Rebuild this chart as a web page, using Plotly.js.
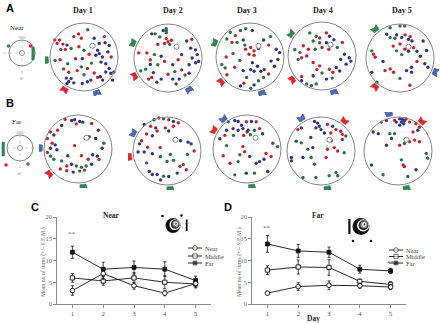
<!DOCTYPE html>
<html>
<head>
<meta charset="utf-8">
<script src="https://cdn.plot.ly/plotly-3.0.1.min.js"></script>
<style>
  html, body { margin: 0; padding: 0; background: #fff; }
  #chart { width: 440px; height: 323px; }
</style>
</head>
<body>
<div id="chart"></div>
<script>
// ---------------------------------------------------------------------------
// Data
// ---------------------------------------------------------------------------
const days = [1, 2, 3, 4, 5];
const dayLabels = ['Day 1', 'Day 2', 'Day 3', 'Day 4', 'Day 5'];

// Mean number of turns (+/- S.E.M.) by zone, Near-cue condition
const nearCondNear = [3.1, 7.0, 4.2, 2.5, 4.7];
const nearCondNearErr = [1.1, 1.3, 0.8, 0.6, 0.8];
const nearCondMiddle = [6.0, 5.3, 6.0, 5.0, 4.6];
const nearCondMiddleErr = [1.0, 1.0, 1.2, 1.5, 0.9];
const nearCondFar = [11.9, 8.0, 8.4, 8.0, 5.4];
const nearCondFarErr = [1.4, 1.6, 1.5, 1.7, 1.0];

// Far-cue condition
const farCondNear = [2.5, 4.0, 4.3, 4.2, 3.9];
const farCondNearErr = [0.4, 0.9, 1.0, 0.6, 0.6];
const farCondMiddle = [7.8, 8.5, 8.4, 5.2, 4.5];
const farCondMiddleErr = [1.0, 1.6, 1.8, 0.5, 0.6];
const farCondFar = [13.8, 12.2, 11.9, 8.0, 7.6];
const farCondFarErr = [1.9, 1.5, 1.2, 0.9, 0.6];

// significance marks: [day, y]
const nearStars = [[1, 16.2]];
const farStars = [[1, 17.5], [5, 9.4]];

// Turn locations in the arena (x, y as % of arena radius), colour = zone
const nearDay1 = [
  [11,80,'g'],[-16,68,'r'],[-30,60,'r'],[-8,55,'r'],[-86,50,'r'],[-72,50,'r'],[-79,40,'r'],[-62,38,'r'],[-50,35,'b'],
  [-55,22,'r'],[-68,22,'g'],[-38,25,'g'],[-15,30,'r'],[0,20,'g'],[-85,-10,'g'],[-70,-8,'r'],[-48,-20,'g'],[-60,-35,'r'],
  [-45,-45,'r'],[-52,-62,'b'],[-38,-63,'b'],[-45,-72,'b'],[-30,-76,'b'],[-50,-78,'b'],[-5,-78,'b'],[10,-73,'b'],[20,-68,'b'],
  [40,-60,'r'],[30,-47,'r'],[10,-34,'r'],[-8,-29,'g'],[-20,-40,'r'],[0,-52,'g'],[15,8,'r'],[22,-18,'g'],[45,40,'b'],
  [62,42,'b'],[74,34,'b'],[40,20,'b'],[45,10,'b'],[54,0,'b'],[35,5,'b'],[50,-15,'b'],[64,-20,'b'],[74,-34,'b'],[64,-44,'b'],
  [79,-48,'b'],[88,-44,'b'],[84,-68,'b'],[55,-68,'b'],[48,-58,'b'],[80,0,'r'],[60,60,'r'],[30,55,'b'],[70,15,'b'],[-25,-5,'r'],[-5,-5,'b']
];
const nearDay2 = [
  [-38,71,'g'],[-24,62,'g'],[-5,86,'g'],[-5,80,'g'],[-5,74,'g'],[-48,71,'b'],[-14,81,'b'],[-5,57,'r'],[0,48,'r'],[-10,43,'r'],
  [5,40,'g'],[10,52,'r'],[-30,40,'r'],[-86,15,'r'],[-62,15,'r'],[-40,10,'g'],[-52,-5,'r'],[-20,5,'b'],[-10,-10,'r'],[-30,-20,'g'],
  [-66,-33,'g'],[-80,-38,'g'],[-52,-19,'b'],[-43,-43,'b'],[-48,-57,'r'],[-57,-62,'r'],[-20,-62,'b'],[-33,-71,'b'],[14,-62,'b'],
  [24,-76,'b'],[33,-62,'b'],[0,-48,'r'],[20,-40,'g'],[40,-35,'r'],[14,-20,'b'],[30,-5,'r'],[40,10,'b'],[67,29,'b'],[81,24,'b'],
  [86,10,'b'],[71,0,'b'],[81,-14,'b'],[90,-10,'b'],[62,-20,'b'],[55,50,'b'],[70,55,'r'],[50,-50,'g'],[62,-45,'b']
];
const nearDay3 = [
  [-58,73,'g'],[-43,63,'r'],[-28,78,'g'],[-13,83,'g'],[7,78,'b'],[-68,53,'g'],[-53,43,'r'],[-38,43,'g'],[-20,50,'b'],[-15,35,'g'],
  [-13,23,'r'],[2,28,'r'],[12,18,'r'],[-3,8,'r'],[12,5,'r'],[25,25,'g'],[-50,10,'g'],[-70,0,'r'],[-83,-22,'g'],[-73,-32,'g'],
  [-68,-52,'r'],[-30,-10,'g'],[-45,-30,'r'],[7,-17,'b'],[22,-27,'b'],[2,-37,'b'],[12,-42,'b'],[32,-42,'b'],[42,-37,'b'],
  [-20,-40,'b'],[77,23,'b'],[87,13,'b'],[82,-7,'b'],[72,-27,'b'],[62,-12,'b'],[55,-50,'r'],[40,-60,'g'],[-18,-77,'r'],
  [2,-92,'g'],[12,-82,'b'],[-28,-85,'b'],[-10,-60,'g'],[25,-70,'g'],[40,50,'b'],[55,35,'r'],[60,60,'g']
];
const nearDay4 = [
  [-36,68,'g'],[-17,58,'g'],[-26,44,'g'],[-7,39,'g'],[-7,53,'r'],[13,68,'r'],[22,58,'b'],[13,39,'b'],[35,48,'b'],[-55,30,'r'],
  [-80,19,'g'],[-65,10,'g'],[-70,-10,'g'],[-60,-5,'r'],[-45,0,'r'],[-40,20,'r'],[-20,20,'g'],[0,25,'r'],[20,20,'r'],[66,5,'b'],
  [80,-5,'b'],[85,-15,'b'],[71,-24,'b'],[55,-10,'b'],[-26,-19,'r'],[-7,-29,'r'],[22,-39,'r'],[32,-48,'r'],[42,-34,'b'],
  [52,-44,'b'],[-60,-60,'r'],[-45,-82,'g'],[-31,-87,'g'],[-17,-82,'g'],[-60,-73,'b'],[13,-68,'b'],[-26,-58,'b'],[0,-50,'g'],
  [-15,-40,'r'],[30,-65,'g'],[60,40,'r'],[45,25,'g']
];
const nearDay5 = [
  [-29,89,'g'],[0,94,'g'],[14,94,'g'],[-39,70,'b'],[-29,60,'g'],[-15,58,'g'],[-10,68,'b'],[5,60,'b'],[15,68,'r'],[25,55,'b'],
  [30,63,'r'],[35,50,'b'],[0,41,'r'],[14,26,'r'],[-10,21,'g'],[5,10,'g'],[25,20,'b'],[40,30,'r'],[50,20,'b'],[-20,35,'r'],
  [68,50,'b'],[78,22,'b'],[73,-17,'b'],[82,-27,'b'],[60,5,'b'],[-83,21,'g'],[-78,11,'r'],[-73,2,'r'],[-29,-32,'r'],[-44,-37,'r'],
  [-19,-42,'r'],[19,-37,'b'],[34,-27,'b'],[34,-42,'b'],[29,-80,'r'],[-68,-71,'g'],[-83,-42,'b'],[0,-60,'g'],[50,-10,'r'],[-50,-10,'b']
];
const farDay1 = [
  [-38,87,'r'],[-19,84,'b'],[-10,86,'b'],[5,81,'b'],[14,79,'b'],[-5,74,'r'],[-48,69,'b'],[-81,50,'r'],[-71,41,'b'],[-90,31,'r'],
  [-76,17,'r'],[-67,12,'b'],[-81,2,'b'],[-62,-2,'b'],[-81,-21,'g'],[-71,-30,'g'],[-90,-10,'r'],[-48,-35,'g'],[-33,-50,'r'],
  [-19,-45,'b'],[-5,-50,'g'],[10,-54,'g'],[24,-50,'g'],[-52,-59,'r'],[-33,-64,'r'],[-14,-68,'b'],[5,-65,'g'],[19,-62,'r'],
  [40,-45,'b'],[43,-17,'b'],[57,-21,'b'],[62,-31,'r'],[76,17,'g'],[71,2,'b'],[33,36,'g'],[52,31,'b'],[-10,10,'r'],[10,-20,'r'],
  [-30,-20,'b'],[30,-30,'r'],[60,55,'b'],[-60,55,'r'],[40,75,'r']
];
const farDay2 = [
  [-38,92,'b'],[-24,97,'r'],[-10,95,'g'],[5,92,'r'],[19,87,'b'],[33,83,'r'],[-67,78,'b'],[-48,73,'r'],[-33,68,'b'],[-29,59,'r'],
  [-5,68,'r'],[5,59,'b'],[19,73,'r'],[-60,50,'r'],[-43,45,'b'],[-75,30,'r'],[-81,21,'b'],[-57,11,'r'],[-67,-3,'b'],[-43,-8,'b'],
  [-85,-3,'b'],[62,26,'b'],[71,21,'b'],[80,0,'r'],[-19,-17,'g'],[0,-31,'g'],[19,-27,'g'],[10,-10,'g'],[38,-45,'r'],[57,-55,'r'],
  [48,-40,'g'],[-52,-60,'b'],[-43,-69,'b'],[-29,-69,'b'],[-10,-74,'g'],[-19,-85,'b'],[5,-75,'b'],[30,-65,'b'],[-60,-35,'g'],
  [40,30,'b'],[-20,10,'r'],[60,-10,'g']
];
const farDay3 = [
  [-55,80,'g'],[-36,84,'b'],[-26,81,'b'],[-16,70,'b'],[-2,80,'r'],[13,81,'b'],[27,80,'r'],[-41,60,'b'],[-26,55,'b'],[-12,60,'b'],
  [0,50,'r'],[3,55,'b'],[22,55,'g'],[37,60,'r'],[46,45,'b'],[-65,40,'r'],[-60,55,'b'],[-40,40,'g'],[-80,30,'b'],[-10,40,'r'],
  [10,42,'g'],[76,17,'g'],[90,7,'g'],[56,-13,'r'],[71,-22,'r'],[-12,7,'r'],[-7,-8,'r'],[-21,-17,'g'],[8,-22,'b'],[-50,-42,'r'],
  [-26,-37,'g'],[27,-42,'b'],[37,-37,'b'],[-36,-76,'g'],[-2,-71,'b'],[22,-71,'g'],[61,-66,'b'],[-70,-20,'r'],[50,-30,'b'],[-60,10,'g']
];
const farDay4 = [
  [-19,87,'b'],[-10,82,'b'],[-5,73,'b'],[-15,68,'b'],[0,63,'b'],[-68,63,'r'],[-58,68,'b'],[19,78,'r'],[34,73,'b'],[44,63,'r'],
  [58,58,'r'],[63,49,'r'],[73,44,'g'],[29,53,'r'],[10,53,'b'],[-73,29,'b'],[-58,24,'g'],[-87,-19,'b'],[-87,-29,'b'],[-24,10,'b'],
  [-39,5,'g'],[39,10,'r'],[49,0,'r'],[63,34,'r'],[19,5,'r'],[15,-19,'r'],[-53,-19,'b'],[-29,-19,'g'],[-53,-78,'g'],[-15,-78,'g'],
  [24,-73,'g'],[44,-63,'g'],[49,-73,'g'],[-19,-39,'g'],[68,-5,'g'],[30,30,'b'],[-30,40,'b']
];
const farDay5 = [
  [5,95,'b'],[13,93,'b'],[19,90,'b'],[10,85,'b'],[17,80,'b'],[5,76,'b'],[-5,85,'b'],[-10,90,'r'],[24,95,'r'],[34,85,'r'],
  [-34,90,'b'],[-49,85,'g'],[53,80,'r'],[63,70,'r'],[58,61,'b'],[44,56,'r'],[34,27,'r'],[49,32,'r'],[63,27,'r'],[-73,56,'b'],
  [-58,51,'b'],[-24,51,'g'],[-10,51,'g'],[-19,37,'b'],[19,22,'g'],[5,17,'r'],[-34,17,'b'],[83,-7,'g'],[87,-21,'g'],[-78,-41,'b'],
  [-44,-70,'g'],[10,-26,'g'],[15,-41,'r'],[19,-46,'r'],[29,-75,'g'],[53,-55,'b']
];

// Cue-card positions around the arena wall (direction from centre), per day
const nearCues = [
  [[-113,-9,'g'],[-60,-100,'r'],[40,-112,'b']],
  [[-103,44,'g'],[-103,-56,'r'],[65,-97,'b']],
  [[-109,44,'g'],[-88,-76,'r'],[37,-112,'b']],
  [[-91,65,'g'],[-89,-71,'r'],[38,-115,'b']],
  [[-76,88,'g'],[-76,-88,'r'],[103,-41,'b']]
];
const farCues = [
  [[-120,3,'b'],[-88,-76,'r'],[15,-107,'g']],
  [[-106,56,'b'],[-115,-18,'r'],[9,-109,'g']],
  [[-79,100,'b'],[-109,62,'r'],[14,-109,'g']],
  [[-62,103,'b'],[76,97,'r'],[18,-106,'g']],
  [[-29,120,'b'],[76,94,'r'],[24,-106,'g']]
];
// goal (platform) location, % of radius
const platform = [25, 33];

// ---------------------------------------------------------------------------
// Figure
// ---------------------------------------------------------------------------
const W = 440, H = 323;
const SERIF = 'Liberation Serif, Times New Roman, serif';
const SANS = 'Liberation Sans, Arial, sans-serif';
const DOT = { r: '#c0272d', g: '#2d6e48', b: '#2e3488' };
const CUE = { r: '#e3262a', g: '#2f8a4e', b: '#4a6db5' };
const px = x => x / W;
const py = y => 1 - y / H;

const traces = [];
const shapes = [];
const annotations = [];
const layout = {
  width: W, height: H,
  margin: { l: 0, r: 0, t: 0, b: 0 },
  paper_bgcolor: '#fff',
  plot_bgcolor: 'rgba(0,0,0,0)',
  showlegend: false,
  font: { family: SERIF, color: '#222' },
  shapes: shapes,
  annotations: annotations
};

function text(x, y, t, size, opts) {
  annotations.push(Object.assign({
    xref: 'paper', yref: 'paper', x: px(x), y: py(y), text: t, showarrow: false,
    xanchor: 'center', yanchor: 'middle', font: { family: SERIF, size: size, color: '#222' }
  }, opts || {}));
}
function disk(cx, cy, r, fill, line) {
  shapes.push({
    type: 'circle', xref: 'paper', yref: 'paper', layer: 'above',
    x0: px(cx - r), x1: px(cx + r), y0: py(cy + r), y1: py(cy - r),
    fillcolor: fill, line: line || { width: 0 }
  });
}
function seg(x0, y0, x1, y1, color, width, dash) {
  shapes.push({
    type: 'line', xref: 'paper', yref: 'paper', x0: px(x0), y0: py(y0), x1: px(x1), y1: py(y1),
    line: { color: color, width: width, dash: dash || 'solid' }
  });
}
function rect(x0, y0, x1, y1, fill, line) {
  shapes.push({
    type: 'rect', xref: 'paper', yref: 'paper', x0: px(x0), y0: py(y1), x1: px(x1), y1: py(y0),
    fillcolor: fill, line: line || { width: 0 }
  });
}

// flag-shaped cue card, pointing outward along angle a
function flagPath(a) {
  const rr = 1.13;
  const e = [Math.cos(a), Math.sin(a)], t = [-Math.sin(a), Math.cos(a)];
  const pts = [[-0.08, -0.09], [0.08, -0.11], [0.03, 0], [0.08, 0.11], [-0.08, 0.09]];
  return 'M' + pts.map(([u, v]) => {
    const x = (rr + u) * e[0] + v * t[0];
    const y = (rr + u) * e[1] + v * t[1];
    return x.toFixed(3) + ',' + y.toFixed(3);
  }).join('L') + 'Z';
}

// ---- arenas (panels A and B) ----
const R = 34, HW = 39, S = HW / R;
const centersA = [[84, 57], [168, 58], [250, 57], [322, 56], [400, 58]];
const centersB = [[78, 149], [167, 151], [247, 149], [321, 151], [398, 151]];

function addArena(k, c, dots, cues) {
  const n = k + 3;
  const xr = 'x' + n, yr = 'y' + n;
  layout['xaxis' + n] = { domain: [px(c[0] - HW), px(c[0] + HW)], range: [-S, S], visible: false, anchor: yr, fixedrange: true };
  layout['yaxis' + n] = { domain: [py(c[1] + HW), py(c[1] - HW)], range: [-S, S], visible: false, anchor: xr, fixedrange: true };
  shapes.push({ type: 'circle', xref: xr, yref: yr, x0: -1, x1: 1, y0: -1, y1: 1, line: { color: '#858585', width: 1 } });
  const pr = 0.075;
  shapes.push({
    type: 'circle', xref: xr, yref: yr, layer: 'above',
    x0: platform[0] / 100 - pr, x1: platform[0] / 100 + pr, y0: platform[1] / 100 - pr, y1: platform[1] / 100 + pr,
    fillcolor: '#fff', line: { color: '#666', width: 0.8 }
  });
  traces.push({
    type: 'scatter', mode: 'markers', xaxis: xr, yaxis: yr, cliponaxis: false, hoverinfo: 'skip',
    x: dots.map(d => d[0] / 100), y: dots.map(d => d[1] / 100),
    marker: { size: 3.4, color: dots.map(d => DOT[d[2]]), line: { width: 0 } }
  });
  cues.forEach(q => {
    shapes.push({
      type: 'path', xref: xr, yref: yr, path: flagPath(Math.atan2(q[1], q[0])),
      fillcolor: CUE[q[2]], line: { color: DOT[q[2]], width: 0.5 }
    });
  });
}
[nearDay1, nearDay2, nearDay3, nearDay4, nearDay5].forEach((d, i) => addArena(i, centersA[i], d, nearCues[i]));
[farDay1, farDay2, farDay3, farDay4, farDay5].forEach((d, i) => addArena(i + 5, centersB[i], d, farCues[i]));

// day headings
const headX = [83, 173, 247, 323, 402];
dayLabels.forEach((t, i) => text(headX[i], 10, '<b>' + t + '</b>', 8));

// panel letters
text(10, 8, '<b>A</b>', 11, { font: { family: SANS, size: 11, color: '#000' } });
text(10, 103, '<b>B</b>', 11, { font: { family: SANS, size: 11, color: '#000' } });
text(35, 207, '<b>C</b>', 11, { font: { family: SANS, size: 11, color: '#000' } });
text(228, 207, '<b>D</b>', 11, { font: { family: SANS, size: 11, color: '#000' } });

// condition schematics
function schematic(cx, cy, label, ly) {
  text(17, ly, label, 7);
  seg(cx - 19, cy, cx + 19, cy, '#aaa', 0.6, 'dot');
  seg(cx, cy - 13, cx, cy + 21, '#aaa', 0.6, 'dot');
  shapes.push({
    type: 'circle', xref: 'paper', yref: 'paper',
    x0: px(cx - 13), x1: px(cx + 13), y0: py(cy + 13), y1: py(cy - 13), line: { color: '#777', width: 0.9 }
  });
  disk(cx, cy, 2.5, '#fff', { color: '#666', width: 0.7 });
  text(cx, cy - 16, '180°', 4.5, { font: { family: SERIF, size: 4.5, color: '#888' } });
  text(cx, cy + 25, '0°', 4.5, { font: { family: SERIF, size: 4.5, color: '#888' } });
}
schematic(22, 53, 'Near', 28);
disk(8.5, 46, 1.8, CUE.b);
disk(30.5, 46, 1.8, CUE.r);
rect(31.8, 47, 34.2, 60, CUE.g, { color: DOT.g, width: 0.5 });
schematic(20, 148, 'Far', 122);
rect(2, 142, 4.5, 156, CUE.g, { color: DOT.g, width: 0.5 });
disk(6, 165, 1.8, CUE.r);
disk(28, 164, 1.8, CUE.b);

// ---- line charts (panels C and D) ----
const axisLine = '#6a6a6a';
function lineAxes(xa, ya, x0, x1) {
  layout[xa] = {
    domain: [px(x0), px(x1)], range: [0.5, 5.5], anchor: ya.replace('axis', ''), showgrid: false, zeroline: false,
    showline: true, linecolor: axisLine, linewidth: 0.8, ticks: 'outside', ticklen: 3, tickwidth: 0.8, tickcolor: axisLine,
    tickvals: days, tickfont: { family: SERIF, size: 7, color: '#555' }, fixedrange: true
  };
  layout[ya] = {
    domain: [py(304), py(217)], range: [0, 20], anchor: xa.replace('axis', ''), showgrid: false, zeroline: false,
    showline: true, linecolor: axisLine, linewidth: 0.8, ticks: 'outside', ticklen: 3, tickwidth: 0.8, tickcolor: axisLine,
    tickvals: [0, 5, 10, 15, 20], tickfont: { family: SERIF, size: 6.5, color: '#666' }, fixedrange: true
  };
}
lineAxes('xaxis', 'yaxis', 57, 211);
lineAxes('xaxis2', 'yaxis2', 252, 406);

const MARK = {
  near: { symbol: 'circle', size: 4.6, color: '#fff', line: { color: '#111', width: 0.9 } },
  middle: { symbol: 'square', size: 4.2, color: '#fff', line: { color: '#111', width: 0.9 } },
  far: { symbol: 'square', size: 3.8, color: '#111', line: { color: '#111', width: 0.9 } }
};
function series(xr, yr, vals, errs, mark) {
  traces.push({
    type: 'scatter', mode: 'lines+markers', xaxis: xr, yaxis: yr, x: days, y: vals, cliponaxis: false, hoverinfo: 'skip',
    line: { color: '#111', width: 0.9 }, marker: mark,
    error_y: { type: 'data', array: errs, visible: true, color: '#111', thickness: 0.8, width: 1.5 }
  });
}
series('x', 'y', nearCondFar, nearCondFarErr, MARK.far);
series('x', 'y', nearCondMiddle, nearCondMiddleErr, MARK.middle);
series('x', 'y', nearCondNear, nearCondNearErr, MARK.near);
series('x2', 'y2', farCondFar, farCondFarErr, MARK.far);
series('x2', 'y2', farCondMiddle, farCondMiddleErr, MARK.middle);
series('x2', 'y2', farCondNear, farCondNearErr, MARK.near);

function stars(list, xr, yr) {
  list.forEach(s => annotations.push({
    xref: xr, yref: yr, x: s[0], y: s[1], text: '**', showarrow: false, xanchor: 'center', yanchor: 'middle',
    font: { family: SERIF, size: 7, color: '#666' }
  }));
}
stars(nearStars, 'x', 'y');
stars(farStars, 'x2', 'y2');

text(111, 215, '<b>Near</b>', 7.5);
text(318, 216, '<b>Far</b>', 7.5);
text(313, 318, '<b>Day</b>', 7.5);
const ytitle = 'Mean no of turns (+/- S.E.M.)';
text(43, 262, ytitle, 5.8, { textangle: -90, font: { family: SERIF, size: 5.8, color: '#666' } });
text(239, 262, ytitle, 5.8, { textangle: -90, font: { family: SERIF, size: 5.8, color: '#666' } });

// legend keys on a full-figure pixel overlay
layout.xaxis13 = { domain: [0, 1], range: [0, W], visible: false, anchor: 'y13', fixedrange: true };
layout.yaxis13 = { domain: [0, 1], range: [H, 0], visible: false, anchor: 'x13', fixedrange: true };
const legendNames = ['Near', 'Middle', 'Far'];
const legendMarks = [MARK.near, MARK.middle, MARK.far];
function legend(x0, rows) {
  legendNames.forEach((nm, i) => {
    traces.push({
      type: 'scatter', mode: 'lines+markers', xaxis: 'x13', yaxis: 'y13', hoverinfo: 'skip', cliponaxis: false,
      x: [x0, x0 + 7, x0 + 14], y: [rows[i], rows[i], rows[i]],
      line: { color: '#111', width: 0.9 },
      marker: Object.assign({}, legendMarks[i], { size: [0, legendMarks[i].size, 0] })
    });
    text(x0 + 15, rows[i], nm, 6.5, { xanchor: 'left', font: { family: SERIF, size: 6.5, color: '#444' } });
  });
}
legend(188, [248, 256, 263]);
legend(389, [250, 256.5, 263]);

// target icons
function target(cx, cy, r) {
  disk(cx, cy, r, '#111');
  disk(cx + r * 0.25, cy - r * 0.12, r * 0.72, '#fff');
  disk(cx + r * 0.3, cy - r * 0.15, r * 0.58, '#222');
  disk(cx + r * 0.35, cy - r * 0.2, r * 0.42, '#9a9a9a');
  disk(cx + r * 0.38, cy - r * 0.24, r * 0.26, '#eee');
  disk(cx + r * 0.4, cy - r * 0.26, r * 0.12, '#444');
}
target(173, 225.5, 7.5);
disk(162.5, 216, 1.3, '#111');
disk(181.5, 215.5, 1.3, '#111');
rect(185.8, 219.5, 187.6, 231, '#111');

target(361, 226.5, 8.5);
rect(348.3, 219, 350.5, 234, '#111');
disk(353, 241, 1.3, '#111');
disk(371, 241, 1.3, '#111');

Plotly.newPlot('chart', traces, layout, { staticPlot: true, displayModeBar: false });
</script>
</body>
</html>
